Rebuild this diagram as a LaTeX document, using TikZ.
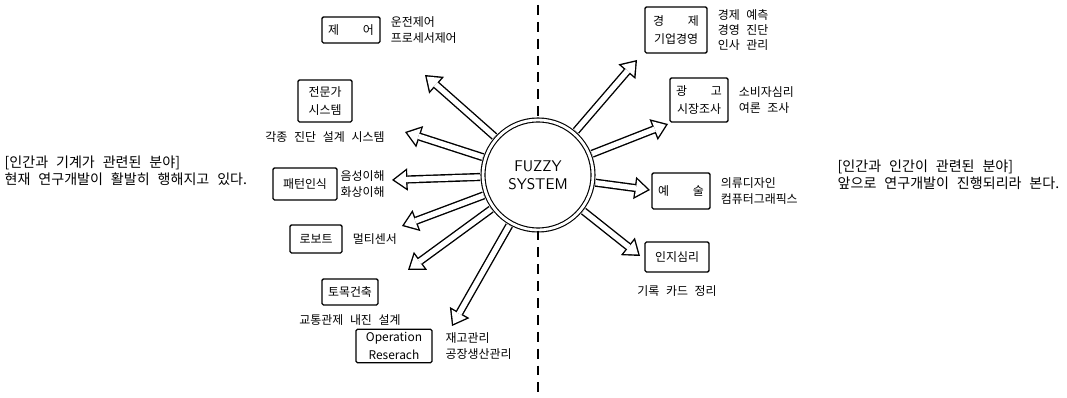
\documentclass[tikz,border=0pt]{standalone}
\usepackage{fontspec}
\newfontfamily\kr{Noto Sans CJK KR}[WordSpace=2.5]
\usetikzlibrary{positioning, arrows.meta}

\tikzset{
  field/.style={draw, line width=0.9pt, rounded corners=1pt, inner sep=2pt, align=center, font=\kr\fontsize{8.5}{13}\selectfont},
  note/.style={inner sep=1pt, align=left, font=\kr\fontsize{8.5}{11}\selectfont},
  groupnote/.style={inner sep=1pt, align=left, font=\kr\fontsize{10}{12}\selectfont},
  hollow/.style={line width=5.8pt, shorten <=1.8pt, -{Triangle[length=11pt, width=16pt, line width=0pt]},
    postaction={draw=white, line width=3.8pt, shorten <=1.8pt, shorten >=1.7pt,
      -{Triangle[length=8.3pt, width=12.1pt, line width=0pt]}}},
  divide/.style={line width=0.8pt, dash pattern=on 7pt off 5pt}
}

\begin{document}
\begin{tikzpicture}[x=0.025cm, y=-0.025cm]
  \useasboundingbox (0,0) rectangle (1067,398);

  % central system
  \node[circle, draw, line width=0.8pt, double, double distance=2pt, minimum size=2.75cm,
        align=center, font=\sffamily\fontsize{11}{13}\selectfont] (fz) at (538,175) {FUZZY\\SYSTEM};

  % dividing line
  \coordinate (top) at (538,5);
  \coordinate (bot) at (538,395);
  \draw[divide] (top) -- (fz.north);
  \draw[divide] (fz.south) -- (bot);

  % left side: human and machine
  \node[field, minimum width=1.45cm, minimum height=0.65cm] (ctrl) at (351,30) {제\hspace{2em}어};
  \node[note, right=6pt of ctrl] (ctrl-d) {운전제어\\프로세서제어};

  \node[field, minimum width=1.35cm, minimum height=1.05cm] (expert) at (325,101) {전문가\\시스템};
  \node[note, below=5pt of expert] (expert-d) {각종 진단 설계 시스템};

  \node[field, minimum width=1.6cm, minimum height=0.8cm] (pattern) at (305,184) {패턴인식};
  \node[note, right=1pt of pattern] (pattern-d) {음성이해\\화상이해};

  \node[field, minimum width=1.3cm, minimum height=0.7cm] (robot) at (316,239) {로보트};
  \node[note, right=6pt of robot] (robot-d) {멀티센서};

  \node[field, minimum width=1.4cm, minimum height=0.65cm] (civil) at (350,292) {토목건축};
  \node[note, below=5pt of civil] (civil-d) {교통관제 내진 설계};

  \node[field, minimum width=1.9cm, minimum height=0.8cm] (or) at (394,346) {Operation\\Reserach};
  \node[note, right=8pt of or] (or-d) {재고관리\\공장생산관리};

  % right side: human and human
  \node[field, minimum width=1.55cm, minimum height=1.15cm] (econ) at (676,30) {경\hspace{2em}제\\기업경영};
  \node[note, right=6pt of econ] (econ-d) {경제 예측\\경영 진단\\인사 관리};

  \node[field, minimum width=1.45cm, minimum height=1.1cm] (ad) at (699,100) {광\hspace{2em}고\\시장조사};
  \node[note, right=6pt of ad] (ad-d) {소비자심리\\여론 조사};

  \node[field, minimum width=1.45cm, minimum height=0.9cm] (art) at (681,191) {예\hspace{2em}술};
  \node[note, right=6pt of art] (art-d) {의류디자인\\컴퓨터그래픽스};

  \node[field, minimum width=1.6cm, minimum height=0.75cm] (cog) at (677,257) {인지심리};
  \node[note, below=8pt of cog] (cog-d) {기록 카드 정리};

  % group notes
  \node[groupnote, anchor=west] (left-note) at (3,171) {[인간과 기계가 관련된 분야]\\현재 연구개발이 활발히 행해지고 있다.};
  \node[groupnote, anchor=west] (right-note) at (836,175) {[인간과 인간이 관련된 분야]\\앞으로 연구개발이 진행되리라 본다.};

  % arrow ends
  \coordinate (a-ctrl) at (425,75);
  \coordinate (a-expert) at (405,132);
  \coordinate (a-pattern) at (392,180);
  \coordinate (a-robot) at (402,226);
  \coordinate (a-civil) at (408,270);
  \coordinate (a-or) at (452,326);
  \coordinate (a-econ) at (637,60);
  \coordinate (a-ad) at (668,124);
  \coordinate (a-art) at (650,190);
  \coordinate (a-cog) at (640,256);

  \foreach \t in {ctrl, expert, pattern, robot, civil, or, econ, ad, art, cog}
    \draw[hollow] (fz) -- (a-\t);
\end{tikzpicture}
\end{document}
